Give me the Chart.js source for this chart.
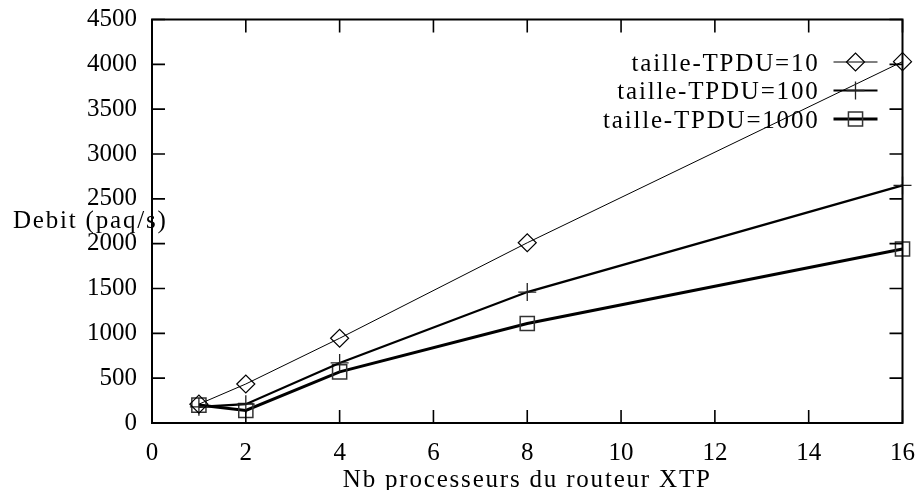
<!DOCTYPE html>
<html>
<head>
<meta charset="utf-8">
<script src="https://cdn.jsdelivr.net/npm/chart.js@4.4.1/dist/chart.umd.min.js"></script>
<style>
  html, body { margin: 0; padding: 0; background: #fff; }
  canvas { display: block; }
</style>
</head>
<body>
<canvas id="debitChart" width="917" height="490"></canvas>
<script>
// values
const procs = [1, 2, 4, 8, 16];
const debit10 = [210, 435, 945, 2010, 4030];
const debit100 = [180, 210, 670, 1460, 2650];
const debit1000 = [200, 140, 570, 1110, 1940];
const seriesLabels = ["taille-TPDU=10", "taille-TPDU=100", "taille-TPDU=1000"];
const xTitle = "Nb processeurs du routeur XTP";
const yTitle = "Debit (paq/s)";

const serif = "'Liberation Serif', 'Times New Roman', serif";

function points(ys) {
  return procs.map((p, i) => ({ x: p, y: ys[i] }));
}

// frame, inward ticks on all four sides, axis titles and the gnuplot-like legend
const gnuplotFrame = {
  id: "gnuplotFrame",
  afterDraw(chart) {
    const ctx = chart.ctx;
    const area = chart.chartArea;
    const xs = chart.scales.x;
    const ys = chart.scales.y;
    const tick = 13;

    ctx.save();
    ctx.strokeStyle = "#000";
    ctx.lineWidth = 1.6;
    ctx.beginPath();
    xs.ticks.forEach(t => {
      const px = xs.getPixelForValue(t.value);
      ctx.moveTo(px, area.bottom);
      ctx.lineTo(px, area.bottom - tick);
      ctx.moveTo(px, area.top);
      ctx.lineTo(px, area.top + tick);
    });
    ys.ticks.forEach(t => {
      const py = ys.getPixelForValue(t.value);
      ctx.moveTo(area.left, py);
      ctx.lineTo(area.left + tick, py);
      ctx.moveTo(area.right, py);
      ctx.lineTo(area.right - tick, py);
    });
    ctx.stroke();

    ctx.lineWidth = 2;
    ctx.strokeRect(area.left, area.top, area.right - area.left, area.bottom - area.top);

    // titles
    ctx.fillStyle = "#000";
    ctx.font = "25px " + serif;
    ctx.letterSpacing = "1.8px";
    ctx.textBaseline = "alphabetic";
    ctx.textAlign = "left";
    ctx.fillText(yTitle, 13, 228);
    ctx.textAlign = "center";
    ctx.fillText(xTitle, (area.left + area.right) / 2, 487);

    // legend
    chart.data.datasets.forEach((ds, i) => {
      const cy = area.top + 42.5 + i * 28.5;
      ctx.fillStyle = "#000";
      ctx.textAlign = "right";
      ctx.fillText(ds.label, area.right - 83, cy + 8.5);

      ctx.strokeStyle = "#000";
      ctx.lineWidth = ds.borderWidth;
      ctx.beginPath();
      ctx.moveTo(area.right - 69, cy);
      ctx.lineTo(area.right - 25, cy);
      ctx.stroke();

      const sx = area.right - 47;
      if (Chart.helpers && Chart.helpers.drawPoint) {
        ctx.fillStyle = "rgba(0,0,0,0)";
        ctx.strokeStyle = ds.pointBorderColor;
        ctx.lineWidth = ds.pointBorderWidth;
        Chart.helpers.drawPoint(ctx, {
          pointStyle: ds.pointStyle,
          radius: ds.pointRadius,
          rotation: 0,
          borderWidth: ds.pointBorderWidth
        }, sx, cy);
      }
    });
    ctx.restore();
  }
};

new Chart(document.getElementById("debitChart"), {
  type: "line",
  data: {
    datasets: [
      {
        label: seriesLabels[0],
        data: points(debit10),
        borderColor: "#000",
        borderWidth: 1,
        pointStyle: "rectRot",
        pointRadius: 9,
        pointBorderWidth: 1.2,
        pointBorderColor: "#000",
        pointBackgroundColor: "rgba(0,0,0,0)",
        clip: false
      },
      {
        label: seriesLabels[1],
        data: points(debit100),
        borderColor: "#000",
        borderWidth: 2.2,
        pointStyle: "cross",
        pointRadius: 9,
        pointBorderWidth: 1.3,
        pointBorderColor: "#222",
        pointBackgroundColor: "rgba(0,0,0,0)",
        clip: false
      },
      {
        label: seriesLabels[2],
        data: points(debit1000),
        borderColor: "#000",
        borderWidth: 3,
        pointStyle: "rect",
        pointRadius: 10,
        pointBorderWidth: 1.5,
        pointBorderColor: "#333",
        pointBackgroundColor: "rgba(0,0,0,0)",
        clip: false
      }
    ]
  },
  options: {
    responsive: false,
    animation: false,
    devicePixelRatio: 1,
    layout: { padding: { left: 0, right: 14.5, top: 19.5, bottom: 0 } },
    plugins: {
      legend: { display: false },
      tooltip: { enabled: false }
    },
    elements: { line: { tension: 0 } },
    scales: {
      x: {
        type: "linear",
        min: 0,
        max: 16,
        ticks: {
          stepSize: 2,
          color: "#000",
          padding: 15,
          font: { family: serif, size: 25 }
        },
        grid: { display: false, drawTicks: false },
        border: { display: false },
        afterFit(scale) {
          scale.height = 67;
          scale.paddingLeft = 0;
          scale.paddingRight = 0;
        }
      },
      y: {
        min: 0,
        max: 4500,
        ticks: {
          stepSize: 500,
          color: "#000",
          padding: 15,
          font: { family: serif, size: 25 },
          callback: value => String(value)
        },
        grid: { display: false, drawTicks: false },
        border: { display: false },
        afterFit(scale) {
          scale.width = 152;
          scale.paddingTop = 0;
          scale.paddingBottom = 0;
        }
      }
    }
  },
  plugins: [gnuplotFrame]
});
</script>
</body>
</html>
